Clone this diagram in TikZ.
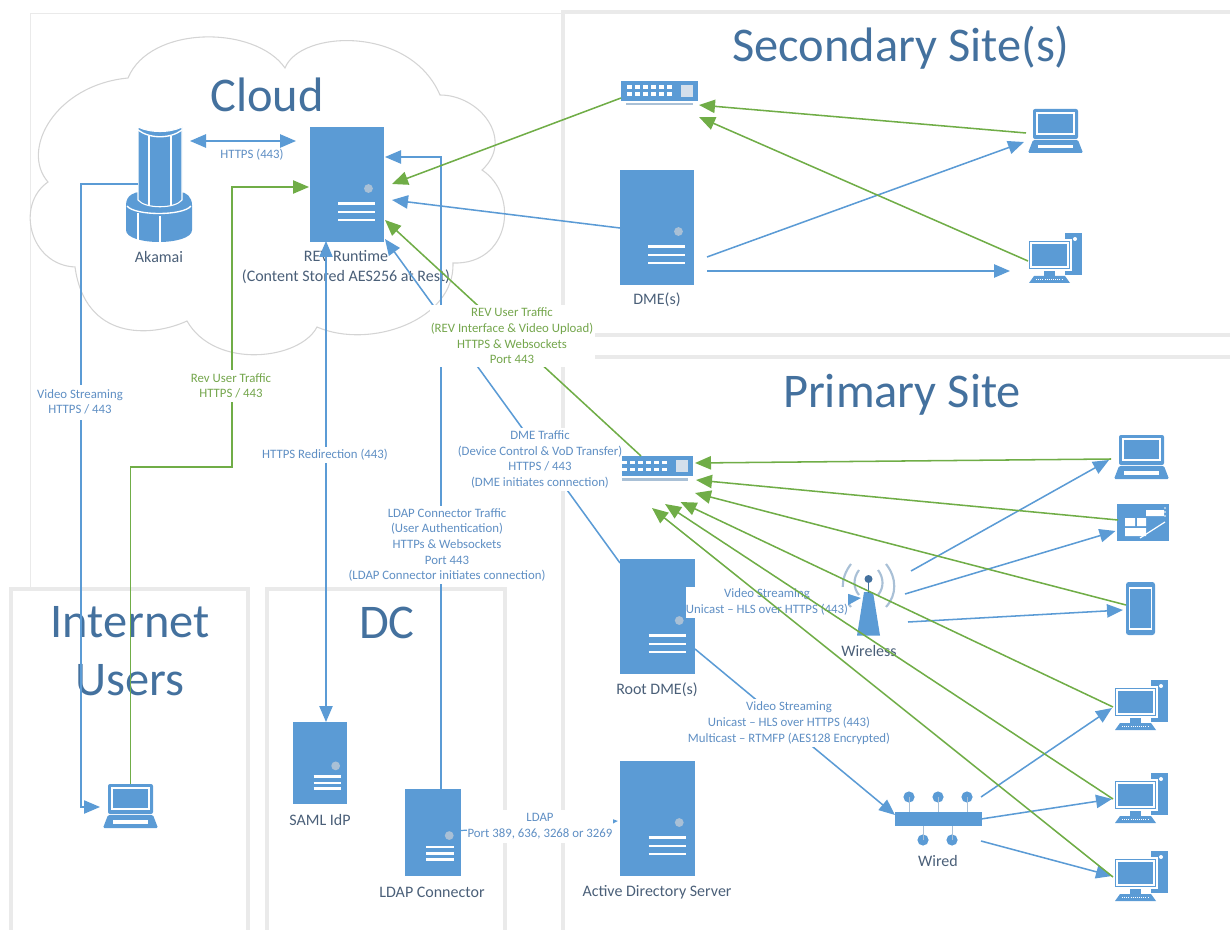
\documentclass[tikz,border=0pt]{standalone}
\usepackage{fontspec}
\setmainfont{Carlito}
\usetikzlibrary{arrows.meta}
\definecolor{iconblue}{HTML}{5B9BD5}
\definecolor{lineblue}{HTML}{5B9BD5}
\definecolor{linegreen}{HTML}{70AD47}
\definecolor{titleblue}{HTML}{44719E}
\definecolor{lblblue}{HTML}{5F8FC4}
\definecolor{lblgreen}{HTML}{74A64C}
\definecolor{namegray}{HTML}{4A5F78}
\definecolor{panelgray}{HTML}{EAEAEA}
\definecolor{cloudgray}{HTML}{D4D4D4}
\definecolor{knob}{HTML}{A9C0D6}
\tikzset{
  panel/.style={draw=panelgray,line width=3.6pt},
  blueflow/.style={draw=lineblue,line width=1.15pt},
  greenflow/.style={draw=linegreen,line width=1.15pt},
  blueone/.style={blueflow,-{Triangle[length=12pt,width=10pt,fill=lineblue]}},
  bluetwo/.style={blueflow,{Triangle[length=12pt,width=10pt,fill=lineblue]}-{Triangle[length=12pt,width=10pt,fill=lineblue]}},
  greenone/.style={greenflow,-{Triangle[length=12pt,width=10pt,fill=linegreen]}},
  thinline/.style={line width=0.9pt},
  title/.style={font=\fontsize{36.3}{43}\selectfont,text=titleblue,align=center,inner sep=0pt},
  nodename/.style={font=\fontsize{12}{14.8}\selectfont,text=namegray,align=center,inner sep=0pt},
  bluelab/.style={font=\fontsize{9.6}{11.7}\selectfont,text=lblblue,align=center,inner sep=0pt,fill=white},
  greenlab/.style={font=\fontsize{9.6}{11.7}\selectfont,text=lblgreen,align=center,inner sep=0pt,fill=white},
  hit/.style={inner sep=0pt,outer sep=0pt},
  wline/.style={draw=white,line width=1pt},
}
% server: name, x0, y0, x1, y1 (node is the body rectangle)
\newcommand{\serverbox}[5]{%
  \pgfmathsetmacro{\sw}{#4-#2}\pgfmathsetmacro{\sh}{#5-#3}%
  \node[hit,fill=iconblue,minimum width=\sw*0.75pt,minimum height=\sh*0.75pt] (#1) at ({(#2+#4)/2},{(#3+#5)/2}) {};%
  \fill[knob] ({#4-0.21*\sw},{#3+0.535*\sh}) circle (3.3pt);%
  \foreach \fr in {0.665,0.74,0.81}{\draw[draw=white,line width=1.7pt] ({#2+0.38*\sw},{#3+\fr*\sh}) -- ({#4-0.12*\sw},{#3+\fr*\sh});}%
}
\newcommand{\laptopicon}[3]{% name, x0, y0 : 55 x 44
  \begin{scope}[shift={(#2,#3)}]
    \node[hit,minimum width=41.25pt,minimum height=33pt] (#1) at (27.5,22) {};
    \fill[iconblue,rounded corners=1.5pt] (5,30) -- (5,0) -- (50,0) -- (50,30) -- cycle;
    \draw[wline] (9,4) rectangle (46,25);
    \fill[iconblue,rounded corners=1pt] (5,31) -- (50,31) -- (55,44) -- (0,44) -- cycle;
    \fill[white] (10,36) rectangle (45,39.5);
  \end{scope}}
\newcommand{\desktopicon}[3]{% name, x0, y0 : 55 x 50
  \begin{scope}[shift={(#2,#3)}]
    \node[hit,minimum width=41.25pt,minimum height=37.5pt] (#1) at (27.5,25) {};
    \fill[iconblue] (37,0) rectangle (54,42);
    \fill[white] (47,6) circle (1.5pt);
    \fill[iconblue,draw=white,line width=0.9pt] (0,7) rectangle (43,37);
    \draw[wline] (3,10) rectangle (40,34);
    \fill[iconblue] (16,38) rectangle (27,43);
    \fill[iconblue] (6,43) -- (37,43) -- (42,50) -- (1,50) -- cycle;
    \draw[draw=white,line width=0.6pt,densely dotted] (8,46) -- (35,46);
  \end{scope}}
\newcommand{\switchicon}[3]{% name, x0, y0 : 77 x 25
  \begin{scope}[shift={(#2,#3)}]
    \node[hit,fill=iconblue,minimum width=57.75pt,minimum height=15pt] (#1) at (38.5,10) {};
    \fill[knob] (5,22) rectangle (72,24.5);
    \foreach \a in {6,14,22,30,38,46}{\fill[white] (\a,4.5) rectangle ++(4.5,3.2);\fill[white] (\a,11.5) rectangle ++(4.5,3.2);}
    \fill[knob!50!white] (60,4) rectangle (72,16);
  \end{scope}}
\begin{document}
\begin{tikzpicture}[x=0.75pt,y=-0.75pt]
\useasboundingbox (0,0) rectangle (1230,930);
% frame around the cloud zone
\draw[draw=panelgray,line width=0.6pt] (30,590) -- (30,13) -- (563,13);
% panels
\draw[panel] (1230,12) -- (563,12) -- (563,335) -- (1230,335);
\draw[panel] (1230,357) -- (595,357);
\draw[panel] (563,365) -- (563,930);
\draw[panel] (11,930) -- (11,589) -- (248,589) -- (248,930);
\draw[panel] (267,930) -- (267,589) -- (505,589) -- (505,930);
% cloud
\draw[draw=cloudgray,line width=0.8pt,fill=white]
  (48,182) .. controls (20,150) and (55,85) .. (128,78)
  .. controls (150,25) and (255,25) .. (285,68)
  .. controls (300,30) and (410,25) .. (440,95)
  .. controls (480,95) and (515,140) .. (482,170)
  .. controls (520,195) and (510,265) .. (453,263)
  .. controls (455,320) and (370,350) .. (317,327)
  .. controls (300,360) and (215,370) .. (187,321)
  .. controls (150,338) and (85,340) .. (75,267)
  .. controls (30,265) and (15,205) .. (48,182) -- cycle;
% titles
\node[title] (tcloud) at (267,95) {Cloud};
\node[title] (tsec) at (901,47.5) {Secondary Site(s)};
\node[title] (tpri) at (902,395) {Primary Site};
\node[title] (tint) at (130,651) {Internet\\Users};
\node[title] (tdc) at (387,623) {DC};
% Akamai icon
\node[hit,minimum width=49.5pt,minimum height=86pt] (ak) at (159,184) {};
\fill[iconblue] (126,205) .. controls (126,195) and (135,192) .. (140,192) -- (180,192) .. controls (186,192) and (192,197) .. (192,205)
  -- (192,230) .. controls (192,238) and (175,242) .. (159,242) .. controls (143,242) and (126,238) .. (126,230) -- cycle;
\draw[wline] (127,206) .. controls (135,216) and (183,216) .. (191,206);
\draw[wline] (138,213) -- (138,241) (160,216) -- (160,242);
\fill[iconblue,draw=white,line width=0.8pt] (138,127) .. controls (150,133) and (170,133) .. (182,127) -- (182,200) .. controls (175,209) and (145,209) .. (138,200) -- cycle;
\draw[wline] (138,130) .. controls (150,139) and (170,139) .. (182,130);
\draw[wline] (149,136) -- (149,206) (171,136) -- (171,206);
\node[nodename] (akn) at (159,257) {Akamai};
% Runtime
\serverbox{rt}{310}{127}{384}{242}
\node[nodename] (rtn) at (346,267) {REV Runtime\\(Content Stored AES256 at Rest)};
% secondary site
\switchicon{swb}{621}{81}
\serverbox{dme}{620}{170}{694}{285}
\node[nodename] (dmen) at (657,300) {DME(s)};
\laptopicon{lapb}{1028}{109}
\desktopicon{deskb}{1028}{233}
% primary site
\switchicon{swa}{616}{456}
\serverbox{root}{620}{559}{695}{674}
\node[nodename] (rootn) at (657,690) {Root DME(s)};
\serverbox{ad}{620}{761}{695}{876}
\node[nodename] (adn) at (657,892) {Active Directory Server};
\laptopicon{lapa}{1114}{435}
% tablet
\node[hit,fill=iconblue,minimum width=39pt,minimum height=27.75pt] (tab) at (1143,522.5) {};
\fill[white] (1125,518) rectangle (1135,526) (1137,518) rectangle (1146,526) (1125,528) rectangle (1146,536) (1146,510) rectangle (1164,516);
\draw[draw=white,line width=0.9pt] (1140,538) -- (1165,522);
\fill[white] (1165,508) circle (0.7pt) (1165,512) circle (0.7pt) (1165,516) circle (0.7pt);
% phone
\node[hit,fill=iconblue,rounded corners=2pt,minimum width=21.75pt,minimum height=39.75pt] (ph) at (1140.5,608.5) {};
\draw[wline] (1129.5,588) rectangle (1151.5,629);
% wireless
\fill[iconblue] (863,635.5) -- (874,635.5) -- (880,635.5) -- (873,592) -- (864,592) -- (857,635.5) -- cycle;
\draw[draw=knob,line width=1.6pt] (859,570) .. controls (853,578) and (853,588) .. (859,595);
\draw[draw=knob,line width=1.6pt] (851,564) .. controls (840,578) and (840,595) .. (851,607);
\draw[draw=knob,line width=1.6pt] (878,570) .. controls (884,578) and (884,588) .. (878,595);
\draw[draw=knob,line width=1.6pt] (886,564) .. controls (897,578) and (897,595) .. (886,607);
\draw[draw=titleblue,line width=1.2pt] (868.5,580) -- (868.5,593);
\fill[titleblue] (868.5,579) circle (3pt);
\node[hit,minimum width=18pt,minimum height=50pt] (wl) at (868.5,602) {};
\node[nodename] (wln) at (869,651) {Wireless};
% wired
\foreach \xx in {909,938,967}{\fill[iconblue] (\xx,797) circle (4.2pt);\draw[draw=knob,line width=0.7pt] (\xx,797) -- (\xx,812);}
\foreach \xx in {923,952}{\fill[iconblue] (\xx,840) circle (4.2pt);\draw[draw=knob,line width=0.7pt] (\xx,825) -- (\xx,840);}
\node[hit,fill=iconblue,minimum width=65pt,minimum height=10.5pt] (wd) at (938.5,818.5) {};
\node[nodename] (wdn) at (938,861) {Wired};
\desktopicon{da}{1114}{680}
\desktopicon{dbb}{1114}{773}
\desktopicon{dc}{1114}{851}
% DC + internet
\serverbox{saml}{293}{722}{347}{804}
\node[nodename] (samln) at (320,820) {SAML IdP};
\serverbox{ldap}{405}{789}{461}{876}
\node[nodename] (ldapn) at (432,892) {LDAP Connector};
\laptopicon{lapi}{103}{784}
% connector ends
\coordinate (akE) at (190,141); \coordinate (rtW) at (296,141);
\coordinate (akV) at (138,184); \coordinate (v1) at (81,184); \coordinate (v2) at (81,807); \coordinate (lapiW) at (100,807);
\coordinate (r1) at (130.5,467); \coordinate (r2) at (232,467); \coordinate (r3) at (232,187); \coordinate (rtG) at (309,187);
\coordinate (rtS) at (326,241); \coordinate (samlN) at (326,722);
\coordinate (ldapN) at (441,789); \coordinate (l1) at (441,157); \coordinate (rtL) at (385,157);
\coordinate (swbW) at (621,98); \coordinate (rtE1) at (392,184);
\coordinate (dmeW) at (620,228); \coordinate (rtE2) at (392,200);
\coordinate (dmeE1) at (707,257); \coordinate (lapbW) at (1024,142);
\coordinate (dmeE2) at (707,271); \coordinate (deskbW) at (1010,271);
\coordinate (lapbG) at (1026,133); \coordinate (swbE1) at (699,105);
\coordinate (deskbG) at (1028,261); \coordinate (swbE2) at (699,117);
\coordinate (swaN) at (641,456); \coordinate (rtE3) at (385,220);
\coordinate (rootN) at (620,563); \coordinate (rtE4) at (385,239);
\coordinate (rootE1) at (695,614); \coordinate (wlW) at (861,598);
\coordinate (rootE2) at (695,649); \coordinate (wdW) at (895,815);
\coordinate (wlA) at (911,571); \coordinate (lapaB) at (1109,460);
\coordinate (wlB) at (905,594); \coordinate (tabB) at (1115.5,531);
\coordinate (wlC) at (908,622); \coordinate (phB) at (1123,610);
\coordinate (wdA) at (981,797); \coordinate (daB) at (1112,708);
\coordinate (wdB) at (981,819); \coordinate (dbB) at (1112,799);
\coordinate (wdC) at (981,841); \coordinate (dcB) at (1112,876);
\coordinate (ldapE) at (461,830.5); \coordinate (adW) at (618,821);
% connectors under the labels
\draw[bluetwo] (akE) -- (rtW);
\draw[blueone,thinline] (akV) -- (v1) -- (v2) -- (lapiW);
\draw[greenone,thinline] (lapi.north) -- (r1) -- (r2) -- (r3) -- (rtG);
\draw[bluetwo,thinline] (samlN) -- (rtS);
\draw[blueone,thinline] (ldapN) -- (l1) -- (rtL);
\draw[greenone] (swbW) -- (rtE1);
\draw[blueone] (dmeW) -- (rtE2);
\draw[blueone] (dmeE1) -- (lapbW);
\draw[blueone] (dmeE2) -- (deskbW);
\draw[greenone] (lapbG) -- (swbE1);
\draw[greenone] (deskbG) -- (swbE2);
\draw[blueone] (rootN) -- (rtE4);
\draw[blueone] (rootE1) -- (wlW);
\draw[blueone] (rootE2) -- (wdW);
\draw[blueone] (wlA) -- (lapaB);
\draw[blueone] (wlB) -- (tabB);
\draw[blueone] (wlC) -- (phB);
\draw[blueone] (wdA) -- (daB);
\draw[blueone] (wdB) -- (dbB);
\draw[blueone] (wdC) -- (dcB);
\draw[-{Triangle[length=5pt,width=4pt,fill=lineblue]},draw=lineblue,line width=0.9pt] (ldapE) -- (adW);
% labels
\node[bluelab,fill=none] (lhttps) at (252,155) {HTTPS (443)};
\node[bluelab,minimum height=35*0.75pt] (lvid) at (80,402) {Video Streaming\\HTTPS / 443};
\node[greenlab,minimum height=32*0.75pt] (lrev) at (231,386) {Rev User Traffic\\HTTPS / 443};
\node[bluelab,minimum height=16*0.75pt] (lred) at (325,455) {HTTPS Redirection (443)};
\node[bluelab,minimum height=78*0.75pt] (lldap) at (447,545) {LDAP Connector Traffic\\(User Authentication)\\HTTPs \& Websockets\\Port 443\\(LDAP Connector initiates connection)};
\node[bluelab,minimum height=63*0.75pt] (ldme) at (540,459.5) {DME Traffic\\(Device Control \& VoD Transfer)\\HTTPS / 443\\(DME initiates connection)};
\draw[greenone] (swaN) -- (rtE3);
\node[greenlab,minimum height=62*0.75pt,minimum width=165*0.75pt] (lrevu) at (512,336) {REV User Traffic\\(REV Interface \& Video Upload)\\HTTPS \& Websockets\\Port 443};
\node[bluelab,minimum height=31*0.75pt] (lrootw) at (767,602) {Video Streaming\\Unicast – HLS over HTTPS (443)};
\node[bluelab,minimum height=48*0.75pt] (lrootd) at (789,723) {Video Streaming\\Unicast – HLS over HTTPS (443)\\Multicast – RTMFP (AES128 Encrypted)};
\node[bluelab,minimum width=146*0.75pt,minimum height=33*0.75pt] (lad) at (540,826.5) {LDAP\\Port 389, 636, 3268 or 3269};
% green flows running over the labels
\coordinate (lapaG) at (1111,459); \coordinate (swaE1) at (695,463);
\coordinate (tabG) at (1118,520); \coordinate (swaE2) at (696,480);
\coordinate (phG) at (1126,605); \coordinate (swaE3) at (695,493);
\coordinate (daG) at (1113,707); \coordinate (swaE4) at (680.5,502);
\coordinate (dbG) at (1113,799); \coordinate (swaE5) at (665,504);
\coordinate (dcG) at (1113,877); \coordinate (swaE6) at (652,508);
\draw[greenone] (lapaG) -- (swaE1);
\draw[greenone] (tabG) -- (swaE2);
\draw[greenone] (phG) -- (swaE3);
\draw[greenone] (daG) -- (swaE4);
\draw[greenone] (dbG) -- (swaE5);
\draw[greenone] (dcG) -- (swaE6);
\end{tikzpicture}
\end{document}
